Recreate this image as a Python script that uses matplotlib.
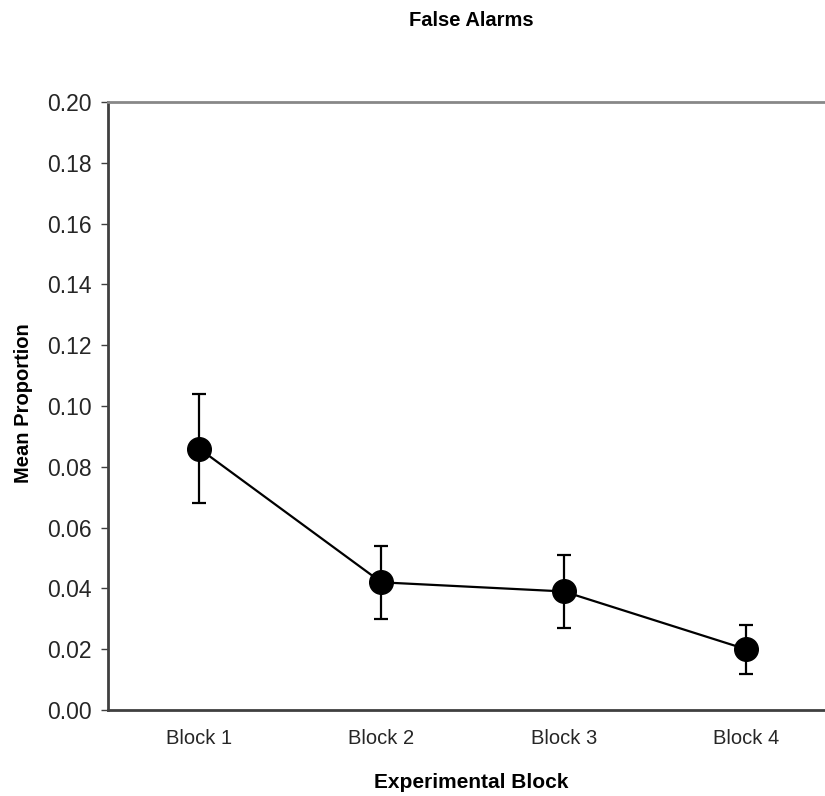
import matplotlib.pyplot as plt
import numpy as np

blocks = ["Block 1", "Block 2", "Block 3", "Block 4"]
means = [0.086, 0.042, 0.039, 0.020]
errs = [0.018, 0.012, 0.012, 0.008]
yticks = [0.00, 0.02, 0.04, 0.06, 0.08, 0.10, 0.12, 0.14, 0.16, 0.18, 0.20]

plt.rcParams['font.family'] = ['Liberation Sans', 'DejaVu Sans']

W, H = 825, 796
fig = plt.figure(figsize=(W / 100, H / 100), dpi=100)
ax = fig.add_axes([108 / W, 1 - 710 / H, (837 - 108) / W, (710 - 102) / H])

x = np.arange(len(blocks))
ax.errorbar(x, means, yerr=errs, color='black', lw=1.6, marker='o', ms=17,
            elinewidth=1.6, capsize=5, capthick=1.6, clip_on=False)

ax.set_xlim(-0.5, 3.5)
ax.set_ylim(0, 0.20)
ax.set_yticks(yticks)
ax.set_yticklabels([f"{v:.2f}" for v in yticks])
ax.set_xticks(x)
ax.set_xticklabels(blocks)

ax.spines['right'].set_visible(False)
ax.spines['top'].set_color('#888888')
ax.spines['top'].set_linewidth(2)
for s in ['left', 'bottom']:
    ax.spines[s].set_color('#404040')
    ax.spines[s].set_linewidth(2)
ax.tick_params(axis='y', direction='out', length=5, width=1, color='#404040',
               labelsize=16.5, pad=7, labelcolor='#262626')
ax.tick_params(axis='x', length=0, labelsize=14.5, pad=14, labelcolor='#262626')

# axis titles and chart title
fig.text(24 / W, 1 - 403 / H, "Mean Proportion", rotation=90, ha='center',
         va='center', fontsize=14.5, fontweight='bold')
fig.text(471 / W, 1 - 783 / H, "Experimental Block", ha='center', va='center',
         fontsize=15, fontweight='bold')
fig.text(471 / W, 1 - 21 / H, "False Alarms", ha='center', va='center',
         fontsize=14.5, fontweight='bold')

fig.savefig("out.png", dpi=100)
